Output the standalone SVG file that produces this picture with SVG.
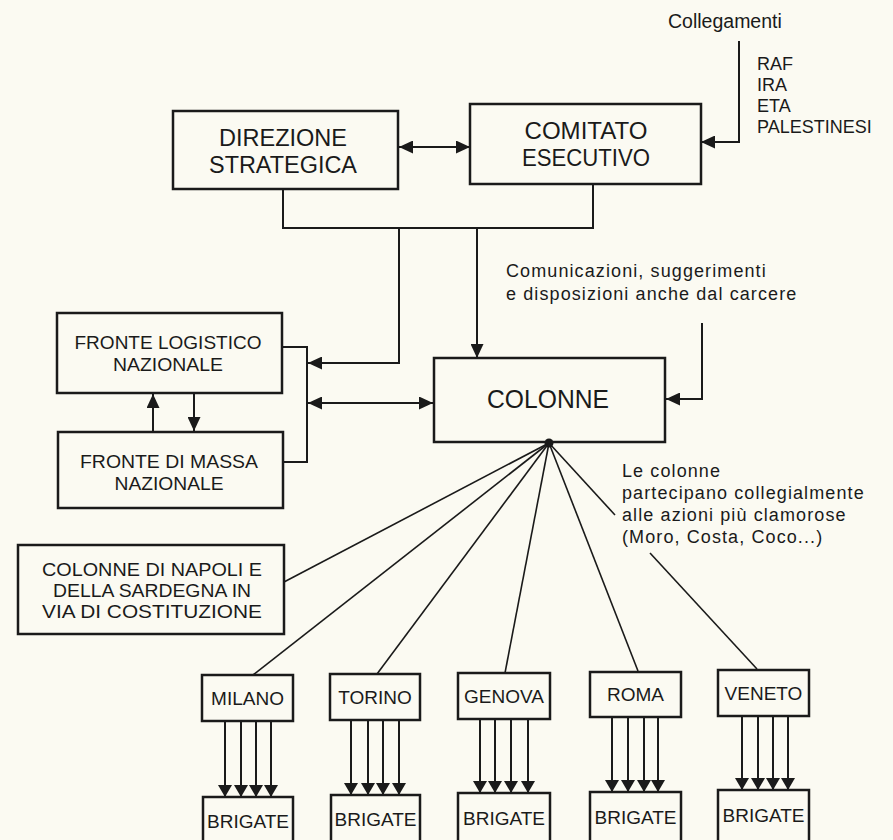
<svg xmlns="http://www.w3.org/2000/svg" width="893" height="840" viewBox="0 0 893 840">
<defs>
<marker id="ah" viewBox="0 0 14 13" refX="14" refY="6.5" markerWidth="14" markerHeight="13" markerUnits="userSpaceOnUse" orient="auto-start-reverse">
<path d="M0,0 L14,6.5 L0,13 Z" fill="#1a1a1a"/>
</marker>
<marker id="ahs" viewBox="0 0 12 14" refX="12" refY="7" markerWidth="12" markerHeight="14" markerUnits="userSpaceOnUse" orient="auto">
<path d="M0,0 L12,7 L0,14 Z" fill="#1a1a1a"/>
</marker>
<style>
.box{fill:none;stroke:#1a1a1a;stroke-width:2.5}
.ln{fill:none;stroke:#1a1a1a;stroke-width:2}
.thin{fill:none;stroke:#1a1a1a;stroke-width:1.6}
.arr{marker-end:url(#ah)}
.sarr{marker-end:url(#ahs)}
.dbl{marker-start:url(#ah);marker-end:url(#ah)}
text{font-family:"Liberation Sans",Arial,Helvetica,sans-serif;fill:#1a1a1a}
.big{font-size:23px;text-anchor:middle}
.col{font-size:25px;text-anchor:middle}
.mid{font-size:18.5px;text-anchor:middle}
.sm{font-size:19px;text-anchor:middle}
.nap{font-size:18px;text-anchor:middle}
.note{font-size:18px;letter-spacing:1.1px}
.lab{font-size:18px}
</style>
</defs>
<rect x="0" y="0" width="893" height="840" fill="#fbfaf2"/>

<g id="connectors">
<path class="ln arr" d="M739,41 L739,142 L701,142"/>
<path class="ln dbl" d="M399,147 L470,147"/>
<path class="ln" d="M283,189 L283,228 L593,228 L593,184"/>
<path class="ln arr" d="M399,228 L399,363 L308,363"/>
<path class="ln arr" d="M477,228 L477,358"/>
<path class="ln" d="M282,347 L307,347 L307,462 L283,462"/>
<path class="ln dbl" d="M308,403 L433,403"/>
<path class="ln arr" d="M153,432 L153,394"/>
<path class="ln arr" d="M194,393 L194,431"/>
<path class="ln arr" d="M702,323 L702,399 L666,399"/>
<circle cx="549" cy="443" r="4.5" fill="#1a1a1a"/>
<path class="thin" d="M549,443 L284,582"/>
<path class="thin" d="M549,443 L253,675"/>
<path class="thin" d="M549,443 L377,674"/>
<path class="thin" d="M549,443 L505,673"/>
<path class="thin" d="M549,443 L638,671"/>
<path class="thin" d="M549,443 L615,515"/>
<path class="thin" d="M650,553 L757,669"/>
<g class="ln">
<path class="sarr" d="M225,721 L225,797"/><path class="sarr" d="M241,721 L241,797"/><path class="sarr" d="M256,721 L256,797"/><path class="sarr" d="M271,721 L271,797"/>
<path class="sarr" d="M351,720 L351,795"/><path class="sarr" d="M368,720 L368,795"/><path class="sarr" d="M383,720 L383,795"/><path class="sarr" d="M399,720 L399,795"/>
<path class="sarr" d="M480,719 L480,793"/><path class="sarr" d="M495,719 L495,793"/><path class="sarr" d="M511,719 L511,793"/><path class="sarr" d="M528,719 L528,793"/>
<path class="sarr" d="M612,717 L612,792"/><path class="sarr" d="M628,717 L628,792"/><path class="sarr" d="M644,717 L644,792"/><path class="sarr" d="M658,717 L658,792"/>
<path class="sarr" d="M742,716 L742,790"/><path class="sarr" d="M758,716 L758,790"/><path class="sarr" d="M773,716 L773,790"/><path class="sarr" d="M788,716 L788,790"/>
</g>
</g>

<g id="collegamenti">
<text class="lab" x="668" y="28" style="font-size:19.5px">Collegamenti</text>
<text class="lab" x="757" y="70">RAF</text>
<text class="lab" x="757" y="91">IRA</text>
<text class="lab" x="757" y="112">ETA</text>
<text class="lab" x="757" y="133">PALESTINESI</text>
</g>

<g id="direzione">
<rect class="box" x="173" y="111" width="225" height="78"/>
<text class="big" x="283" y="146" textLength="128" lengthAdjust="spacingAndGlyphs">DIREZIONE</text>
<text class="big" x="283" y="173" textLength="148" lengthAdjust="spacingAndGlyphs">STRATEGICA</text>
</g>

<g id="comitato">
<rect class="box" x="470" y="104" width="231" height="80"/>
<text class="big" x="586" y="139" textLength="123" lengthAdjust="spacingAndGlyphs">COMITATO</text>
<text class="big" x="586" y="166" textLength="128" lengthAdjust="spacingAndGlyphs">ESECUTIVO</text>
</g>

<g id="fronte-logistico">
<rect class="box" x="57" y="313" width="225" height="80"/>
<text class="mid" x="168" y="349" textLength="187" lengthAdjust="spacingAndGlyphs">FRONTE LOGISTICO</text>
<text class="mid" x="168" y="371" textLength="110" lengthAdjust="spacingAndGlyphs">NAZIONALE</text>
</g>

<g id="fronte-massa">
<rect class="box" x="58" y="432" width="225" height="76"/>
<text class="mid" x="169" y="468" textLength="178" lengthAdjust="spacingAndGlyphs">FRONTE DI MASSA</text>
<text class="mid" x="169" y="490" textLength="109" lengthAdjust="spacingAndGlyphs">NAZIONALE</text>
</g>

<g id="colonne">
<rect class="box" x="434" y="358" width="231" height="84"/>
<text class="col" x="548" y="408" textLength="122" lengthAdjust="spacingAndGlyphs">COLONNE</text>
</g>

<g id="nota-carcere">
<text class="note" x="506" y="277">Comunicazioni, suggerimenti</text>
<text class="note" x="506" y="300">e disposizioni anche dal carcere</text>
</g>

<g id="nota-azioni">
<text class="note" x="622" y="477">Le colonne</text>
<text class="note" x="622" y="499">partecipano collegialmente</text>
<text class="note" x="622" y="521">alle azioni più clamorose</text>
<text class="note" x="622" y="543">(Moro, Costa, Coco...)</text>
</g>

<g id="napoli-sardegna">
<rect class="box" x="18" y="545" width="266" height="89"/>
<text class="nap" x="152" y="576" textLength="220" lengthAdjust="spacingAndGlyphs">COLONNE DI NAPOLI E</text>
<text class="nap" x="152" y="597" textLength="198" lengthAdjust="spacingAndGlyphs">DELLA SARDEGNA IN</text>
<text class="nap" x="152" y="618" textLength="220" lengthAdjust="spacingAndGlyphs">VIA DI COSTITUZIONE</text>
</g>

<g id="milano">
<rect class="box" x="202" y="675" width="91" height="46"/>
<text class="sm" x="247.5" y="705">MILANO</text>
</g>
<g id="torino">
<rect class="box" x="330" y="674" width="90" height="46"/>
<text class="sm" x="375" y="704">TORINO</text>
</g>
<g id="genova">
<rect class="box" x="458" y="673" width="92" height="46"/>
<text class="sm" x="504" y="703">GENOVA</text>
</g>
<g id="roma">
<rect class="box" x="590" y="672" width="91" height="45"/>
<text class="sm" x="635.5" y="701">ROMA</text>
</g>
<g id="veneto">
<rect class="box" x="718" y="670" width="91" height="46"/>
<text class="sm" x="763.5" y="700">VENETO</text>
</g>

<g id="brigate-milano">
<rect class="box" x="203" y="797" width="90" height="50"/>
<text class="sm" x="248" y="828">BRIGATE</text>
</g>
<g id="brigate-torino">
<rect class="box" x="331" y="795" width="89" height="52"/>
<text class="sm" x="375.5" y="826">BRIGATE</text>
</g>
<g id="brigate-genova">
<rect class="box" x="458" y="793" width="92" height="54"/>
<text class="sm" x="504" y="825">BRIGATE</text>
</g>
<g id="brigate-roma">
<rect class="box" x="590" y="792" width="91" height="55"/>
<text class="sm" x="635.5" y="824">BRIGATE</text>
</g>
<g id="brigate-veneto">
<rect class="box" x="718" y="790" width="91" height="57"/>
<text class="sm" x="763.5" y="822">BRIGATE</text>
</g>
</svg>
